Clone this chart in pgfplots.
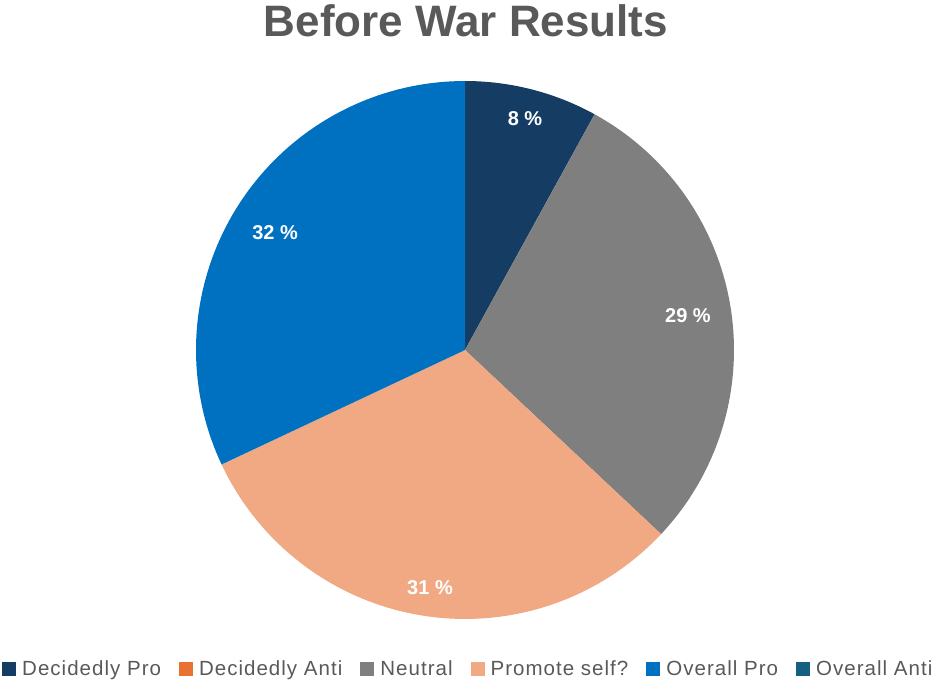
\documentclass[border=0pt]{standalone}
\usepackage{fontspec}
\setmainfont{Liberation Sans}
\newfontfamily\legendfont[LetterSpace=5]{Liberation Sans}
\usepackage{pgfplots}
\usepackage{pgfplotstable}
\pgfplotsset{compat=1.18}
\definecolor{cDPro}{HTML}{153D64}
\definecolor{cDAnti}{HTML}{E97132}
\definecolor{cNeutral}{HTML}{7F7F7F}
\definecolor{cPromote}{HTML}{F1A983}
\definecolor{cOPro}{HTML}{0070C0}
\definecolor{cOAnti}{HTML}{156082}
\definecolor{txt}{HTML}{595959}

\pgfplotstableread[col sep=comma]{
name,value
Decidedly Pro,8
Decidedly Anti,0
Neutral,29
Promote self?,31
Overall Pro,32
Overall Anti,0
}\piedata

\pgfplotstablegetelem{0}{value}\of\piedata \let\vA\pgfplotsretval
\pgfplotstablegetelem{1}{value}\of\piedata \let\vB\pgfplotsretval
\pgfplotstablegetelem{2}{value}\of\piedata \let\vC\pgfplotsretval
\pgfplotstablegetelem{3}{value}\of\piedata \let\vD\pgfplotsretval
\pgfplotstablegetelem{4}{value}\of\piedata \let\vE\pgfplotsretval
\pgfplotstablegetelem{5}{value}\of\piedata \let\vF\pgfplotsretval

\pgfmathsetmacro\aA{90}
\pgfmathsetmacro\aB{\aA-3.6*\vA}
\pgfmathsetmacro\aC{\aB-3.6*\vB}
\pgfmathsetmacro\aD{\aC-3.6*\vC}
\pgfmathsetmacro\aE{\aD-3.6*\vD}
\pgfmathsetmacro\aF{\aE-3.6*\vE}

\begin{document}
\begin{tikzpicture}
\useasboundingbox (0,0) rectangle (935bp,680bp);
\node[font=\fontsize{44bp}{50bp}\selectfont\bfseries, text=txt] at (466bp,659bp) {Before War Results};
\begin{axis}[
  at={(465bp,330bp)}, anchor=center,
  scale only axis, width=538bp, height=538bp,
  xmin=-1, xmax=1, ymin=-1, ymax=1,
  hide axis, clip=false,
  legend columns=6,
  legend image code/.code={\fill[#1] (0bp,-7bp) rectangle (14bp,7bp);},
  legend style={at={(0.507,-0.0935)}, anchor=center, draw=none, fill=none,
    inner sep=0pt,
    font=\legendfont\fontsize{20.5bp}{24bp}\selectfont, text=txt,
    nodes={inner sep=3bp},
    /tikz/every odd column/.append style={column sep=3bp},
    /tikz/every even column/.append style={column sep=15bp}},
]
\addplot[draw=none, fill=cDPro, domain=\aB:\aA, samples=40, variable=\t]
  ({cos(\t)},{sin(\t)}) -- (axis cs:0,0) -- cycle;
\addlegendentry{Decidedly Pro}
\addlegendimage{draw=none, fill=cDAnti}
\addlegendentry{Decidedly Anti}
\addplot[draw=none, fill=cNeutral, domain=\aD:\aC, samples=80, variable=\t]
  ({cos(\t)},{sin(\t)}) -- (axis cs:0,0) -- cycle;
\addlegendentry{Neutral}
\addplot[draw=none, fill=cPromote, domain=\aE:\aD, samples=80, variable=\t]
  ({cos(\t)},{sin(\t)}) -- (axis cs:0,0) -- cycle;
\addlegendentry{Promote self?}
\addplot[draw=none, fill=cOPro, domain=\aF:\aE, samples=80, variable=\t]
  ({cos(\t)},{sin(\t)}) -- (axis cs:0,0) -- cycle;
\addlegendentry{Overall Pro}
\addlegendimage{draw=none, fill=cOAnti}
\addlegendentry{Overall Anti}
\node[text=white, font=\fontsize{20bp}{24bp}\selectfont\bfseries] at (axis cs:0.223,0.862) {\vA\ \%};
\node[text=white, font=\fontsize{20bp}{24bp}\selectfont\bfseries] at (axis cs:0.829,0.126) {\vC\ \%};
\node[text=white, font=\fontsize{20bp}{24bp}\selectfont\bfseries] at (axis cs:-0.130,-0.885) {\vD\ \%};
\node[text=white, font=\fontsize{20bp}{24bp}\selectfont\bfseries] at (axis cs:-0.706,0.435) {\vE\ \%};
\end{axis}
\end{tikzpicture}
\end{document}
